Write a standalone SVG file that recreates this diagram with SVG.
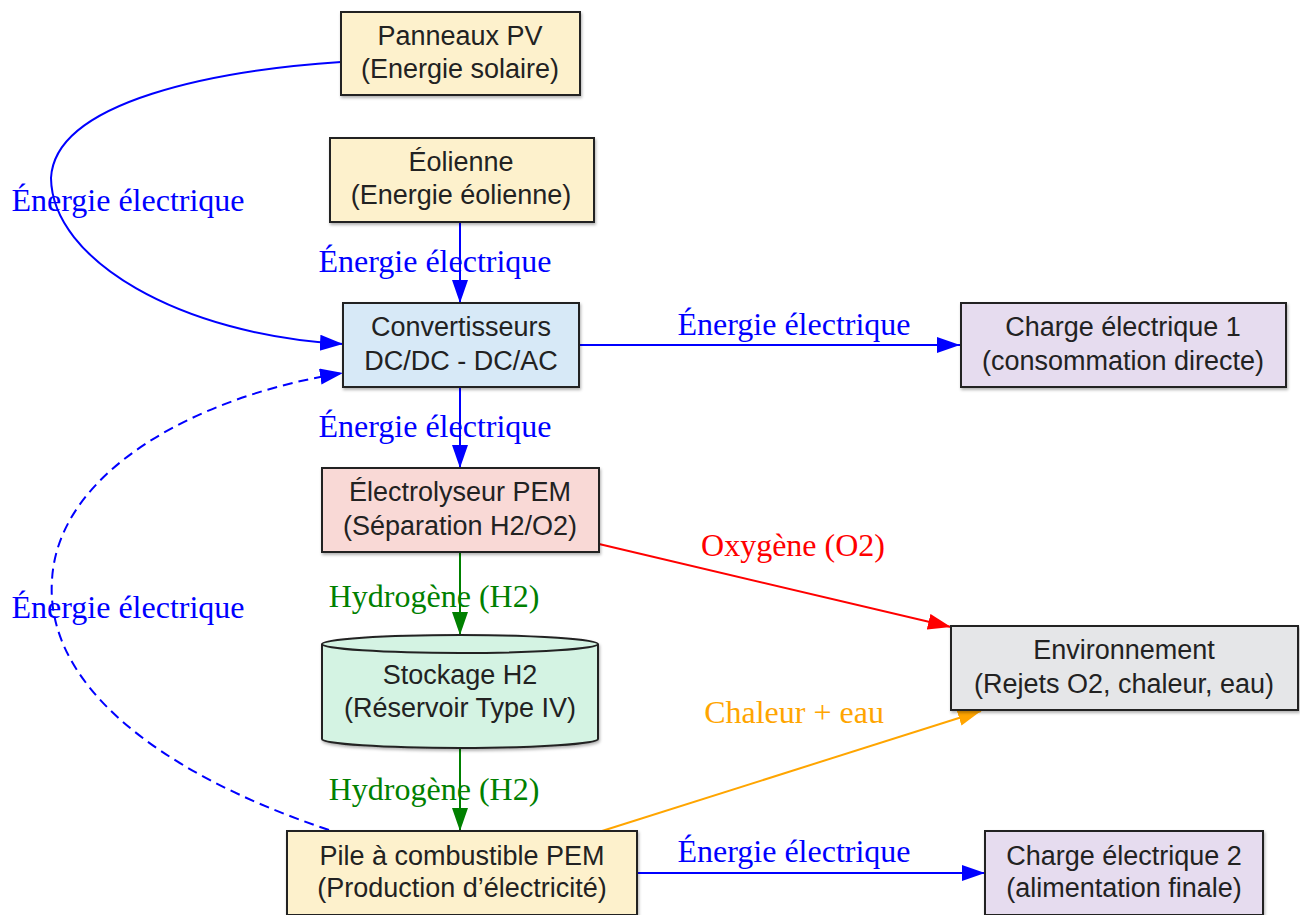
<svg xmlns="http://www.w3.org/2000/svg" width="1300" height="915" viewBox="0 0 1300 915">
<style>
.box{stroke:#222;stroke-width:2}
.nt{font-family:"Liberation Sans",Arial,sans-serif;font-size:27px;fill:#222;text-anchor:middle}
.lb{font-family:"Liberation Serif","Times New Roman",serif;font-size:32px;text-anchor:middle}
.e{fill:none;stroke-width:2}
.blue{stroke:#0000ff}.red{stroke:#ff0000}.green{stroke:#008000}.orange{stroke:#ffa500}
</style>
<defs>
<filter id="sh" x="-5%" y="-5%" width="110%" height="115%"><feDropShadow dx="1" dy="2" stdDeviation="1.5" flood-color="#000" flood-opacity="0.3"/></filter>
<marker id="ab" markerUnits="userSpaceOnUse" markerWidth="24" markerHeight="18" refX="23" refY="8" orient="auto"><path d="M0,0 L23,8 L0,16 z" fill="#0000ff"/></marker>
<marker id="ar" markerUnits="userSpaceOnUse" markerWidth="24" markerHeight="18" refX="23" refY="8" orient="auto"><path d="M0,0 L23,8 L0,16 z" fill="#ff0000"/></marker>
<marker id="ag" markerUnits="userSpaceOnUse" markerWidth="24" markerHeight="18" refX="23" refY="8" orient="auto"><path d="M0,0 L23,8 L0,16 z" fill="#008000"/></marker>
<marker id="ao" markerUnits="userSpaceOnUse" markerWidth="24" markerHeight="18" refX="23" refY="8" orient="auto"><path d="M0,0 L23,8 L0,16 z" fill="#ffa500"/></marker>
</defs>
<rect width="1300" height="915" fill="#fff"/>

<g id="edges">
<path class="e blue" d="M341,62 C220,70 55,100 51,178 C52,260 180,335 343,344" marker-end="url(#ab)"/>
<text class="lb" x="128" y="211" fill="#0000ff">Énergie électrique</text>
<path class="e blue" d="M460,222 L460,303" marker-end="url(#ab)"/>
<text class="lb" x="435" y="272" fill="#0000ff">Énergie électrique</text>
<path class="e blue" d="M579,345 L960,345" marker-end="url(#ab)"/>
<text class="lb" x="794" y="335" fill="#0000ff">Énergie électrique</text>
<path class="e blue" d="M460,388 L460,468" marker-end="url(#ab)"/>
<text class="lb" x="435" y="437" fill="#0000ff">Énergie électrique</text>
<path class="e red" d="M599,544 L951,627" marker-end="url(#ar)"/>
<text class="lb" x="793" y="556" fill="#ff0000">Oxygène (O2)</text>
<path class="e green" d="M460,553 L460,635" marker-end="url(#ag)"/>
<text class="lb" x="434" y="607" fill="#008000">Hydrogène (H2)</text>
<path class="e green" d="M460,749 L460,831" marker-end="url(#ag)"/>
<text class="lb" x="434" y="800" fill="#008000">Hydrogène (H2)</text>
<path class="e orange" d="M602,831 L981,711" marker-end="url(#ao)"/>
<text class="lb" x="794" y="723" fill="#ffa500">Chaleur + eau</text>
<path class="e blue" d="M637,873 L985,873" marker-end="url(#ab)"/>
<text class="lb" x="794" y="862" fill="#0000ff">Énergie électrique</text>
<path class="e blue" d="M329,830 C150,770 45,680 52,580 C58,470 200,395 343,373" stroke-dasharray="10,6" marker-end="url(#ab)"/>
<text class="lb" x="128" y="618" fill="#0000ff">Énergie électrique</text>
</g>

<g id="pv"><rect class="box" x="341" y="12" width="239" height="83" fill="#fdf1cc" filter="url(#sh)"/>
<text class="nt" x="460" y="45">Panneaux PV</text><text class="nt" x="460" y="78">(Energie solaire)</text></g>

<g id="eolienne"><rect class="box" x="330" y="138" width="264" height="84" fill="#fdf1cc" filter="url(#sh)"/>
<text class="nt" x="461" y="171">Éolienne</text><text class="nt" x="461" y="204">(Energie éolienne)</text></g>

<g id="convertisseurs"><rect class="box" x="343" y="303" width="236" height="84" fill="#d7e9f7" filter="url(#sh)"/>
<text class="nt" x="461" y="336">Convertisseurs</text><text class="nt" x="461" y="370">DC/DC - DC/AC</text></g>

<g id="charge1"><rect class="box" x="961" y="303" width="325" height="84" fill="#e6dcef" filter="url(#sh)"/>
<text class="nt" x="1123" y="336">Charge électrique 1</text><text class="nt" x="1123" y="370">(consommation directe)</text></g>

<g id="electrolyseur"><rect class="box" x="322" y="468" width="277" height="84" fill="#f9d9d6" filter="url(#sh)"/>
<text class="nt" x="460" y="501">Électrolyseur PEM</text><text class="nt" x="460" y="535">(Séparation H2/O2)</text></g>

<g id="environnement"><rect class="box" x="951" y="626" width="347" height="84" fill="#e5e6e8" filter="url(#sh)"/>
<text class="nt" x="1124" y="659">Environnement</text><text class="nt" x="1124" y="693">(Rejets O2, chaleur, eau)</text></g>

<g id="stockage">
<path class="box" d="M322,644 A138,9 0 0 1 598,644 L598,739 A138,9 0 0 1 322,739 Z" fill="#d4f3e3" filter="url(#sh)"/>
<path class="box" d="M322,644 A138,9 0 0 0 598,644" fill="none"/>
<text class="nt" x="460" y="684">Stockage H2</text><text class="nt" x="460" y="717">(Réservoir Type IV)</text></g>

<g id="pile"><rect class="box" x="287" y="831" width="350" height="84" fill="#fdf1cc" filter="url(#sh)"/>
<text class="nt" x="462" y="865">Pile à combustible PEM</text><text class="nt" x="462" y="897">(Production d’électricité)</text></g>

<g id="charge2"><rect class="box" x="985" y="831" width="278" height="84" fill="#e6dcef" filter="url(#sh)"/>
<text class="nt" x="1124" y="865">Charge électrique 2</text><text class="nt" x="1124" y="897">(alimentation finale)</text></g>
</svg>
